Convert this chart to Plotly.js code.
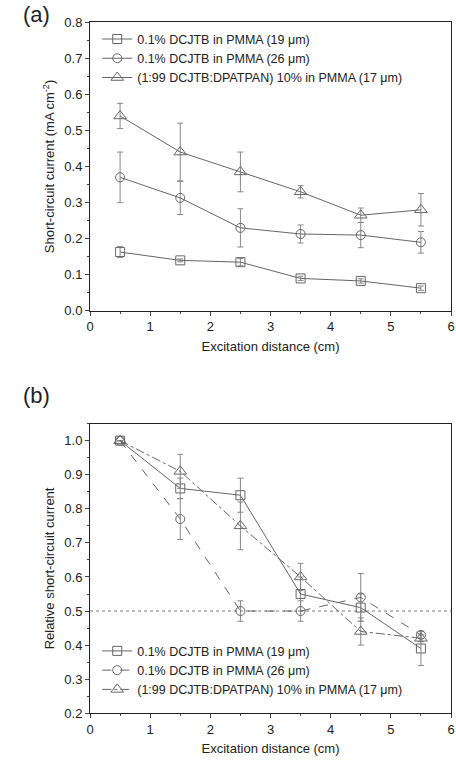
<!DOCTYPE html><html><head><script src="https://cdn.plot.ly/plotly-3.0.1.min.js"></script></head><body style="margin:0"><div id="c" style="width:456px;height:762px"></div><script>
const x=[0.5,1.5,2.5,3.5,4.5,5.5];
const names=['0.1% DCJTB in PMMA (19 μm)','0.1% DCJTB in PMMA (26 μm)','(1:99 DCJTB:DPATPAN) 10% in PMMA (17 μm)'];
const aSq=[0.163,0.14,0.135,0.09,0.083,0.063], aSqE=[0.015,0.004,0.01,0.006,0.006,0.006];
const aCi=[0.37,0.313,0.23,0.213,0.21,0.19], aCiE=[0.07,0.046,0.053,0.025,0.035,0.03];
const aTr=[0.54,0.44,0.385,0.33,0.265,0.28], aTrE=[0.035,0.08,0.055,0.017,0.02,0.045];
const bSq=[1.0,0.86,0.84,0.55,0.51,0.39], bSqE=[0,0.03,0.05,0.05,0.04,0.05];
const bCi=[1.0,0.77,0.50,0.50,0.54,0.43], bCiE=[0,0.06,0.03,0.03,0.07,0.01];
const bTr=[1.0,0.91,0.75,0.60,0.44,0.42], bTrE=[0,0.05,0.07,0.04,0.04,0.01];
const syms=['square-open','circle-open','triangle-up-open'];
const col='#666';
function tr(y,e,i,ax,dash,leg){return {x:x,y:y,name:names[i],type:'scatter',mode:'lines+markers',xaxis:ax[0],yaxis:ax[1],legend:leg,
 line:{color:col,width:1,dash:dash},marker:{symbol:syms[i],size:i==2?11:9,color:col,line:{width:1}},
 error_y:{type:'data',array:e,color:'#888',thickness:1,width:3}};}
const data=[tr(aSq,aSqE,0,['x','y'],'solid','legend'),tr(aCi,aCiE,1,['x','y'],'solid','legend'),tr(aTr,aTrE,2,['x','y'],'solid','legend'),
 tr(bSq,bSqE,0,['x2','y2'],'solid','legend2'),tr(bCi,bCiE,1,['x2','y2'],'dash','legend2'),tr(bTr,bTrE,2,['x2','y2'],'dashdot','legend2')];
const fnt={family:'Arial, Liberation Sans',color:'#222'};
function xa(anchor){return {domain:[0,1],anchor:anchor,range:[0,6],dtick:1,ticks:'outside',ticklen:4,showline:true,mirror:true,linecolor:'#222',showgrid:false,zeroline:false,
 tickfont:{size:13},minor:{dtick:0.5,ticks:'outside',ticklen:2},title:{text:'Excitation distance (cm)',font:{size:13},standoff:8}};}
function ya(anchor,dom,r,t){return {domain:dom,anchor:anchor,range:r,dtick:0.1,tickformat:'.1f',ticks:'outside',ticklen:4,showline:true,mirror:true,linecolor:'#222',showgrid:false,zeroline:false,
 tickfont:{size:13},minor:{dtick:0.05,ticks:'outside',ticklen:2},title:{text:t,font:{size:13},standoff:6}};}
const layout={width:456,height:762,margin:{l:90,r:5,t:0,b:0},showlegend:true,font:fnt,paper_bgcolor:'#fff',plot_bgcolor:'#fff',
 xaxis:xa('y'),yaxis:ya('x',[0.592,0.971],[0,0.8],'Short-circuit current (mA cm<sup>-2</sup>)'),
 xaxis2:xa('y2'),yaxis2:ya('x2',[0.064,0.444],[0.2,1.05],'Relative short-circuit current'),
 legend:{x:0.02,y:0.968,yanchor:'top',xanchor:'left',font:{size:12.5},bgcolor:'rgba(0,0,0,0)',tracegroupgap:0,itemwidth:30},
 legend2:{x:0.02,y:0.165,yanchor:'top',xanchor:'left',font:{size:12.5},bgcolor:'rgba(0,0,0,0)',itemwidth:30},
 shapes:[{type:'line',xref:'x2 domain',x0:0,x1:1,yref:'y2',y0:0.5,y1:0.5,line:{color:'#555',width:0.8,dash:'dot'}}],
 annotations:[{text:'(a)',xref:'paper',yref:'paper',x:-0.19,y:1.0,xanchor:'left',yanchor:'top',showarrow:false,font:{size:22}},
 {text:'(b)',xref:'paper',yref:'paper',x:-0.19,y:0.5,xanchor:'left',yanchor:'top',showarrow:false,font:{size:22}}]};
Plotly.newPlot('c',data,layout,{displayModeBar:false});
</script></body></html>
